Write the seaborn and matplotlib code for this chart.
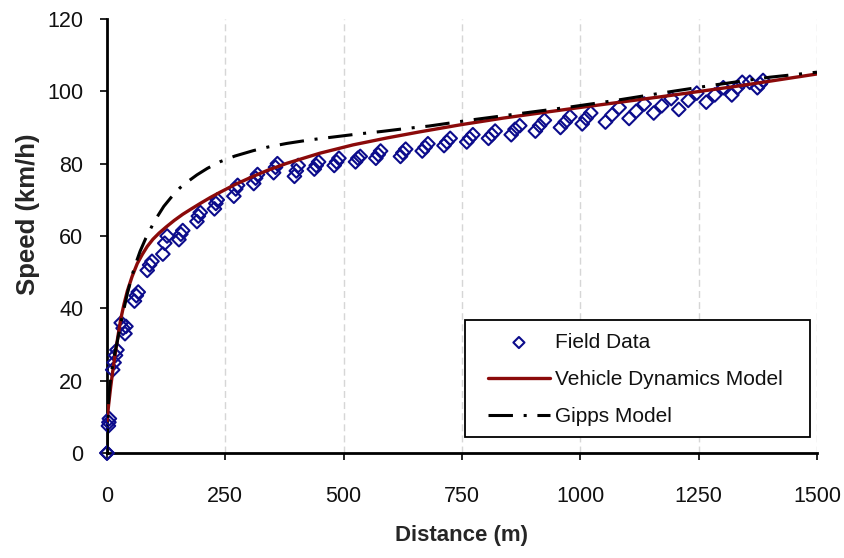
import numpy as np
import pandas as pd
import matplotlib
matplotlib.use("Agg")
import matplotlib.pyplot as plt
from matplotlib.patches import Rectangle
import seaborn as sns

# ---- data ----
field_x = [0, 0,
           3, 4, 5,
           12, 15, 18, 21,
           30, 34, 38, 40,
           58, 62, 66,
           85, 90, 95,
           118, 122, 127,
           152, 156, 160,
           190, 193, 197,
           227, 230, 233,
           268, 272, 276,
           310, 314, 318,
           352, 356, 360,
           396, 400, 404,
           438, 442, 447,
           480, 485, 490,
           525, 530, 535,
           568, 573, 578,
           620, 625, 631,
           666, 672, 678,
           712, 718, 725,
           760, 766, 773,
           806, 813, 820,
           854, 862, 872,
           905, 914, 924,
           958, 968, 978,
           1004, 1012, 1022,
           1053, 1067, 1082,
           1103, 1118, 1135,
           1155, 1172, 1192,
           1208, 1228, 1246,
           1266, 1284, 1302,
           1320, 1332, 1342,
           1358,
           1374, 1380, 1386]
field_y = [0, 0,
           7.5, 8.5, 9.5,
           23, 25, 27, 28.5,
           36, 34.5, 33, 35,
           42, 43.5, 44.5,
           50.5, 52, 53,
           55, 58, 60,
           59, 60.5, 61.5,
           64, 65.5, 66.5,
           67.5, 69, 70,
           71, 73, 74,
           74.5, 76, 77,
           77.5, 79, 80,
           76.5, 78, 79.5,
           78.5, 79.5, 80.5,
           79.5, 80.5, 81.5,
           80.5, 81.5, 82,
           81.5, 82.5, 83.5,
           82, 83, 84,
           83.5, 84.5, 85.5,
           85, 86, 87,
           86, 87, 88,
           87, 88, 89,
           88, 89.5, 90.5,
           89, 90.5, 92,
           90, 91.5, 93,
           91, 92.5, 94,
           91.5, 93.5, 95.5,
           92.5, 94.5, 96.5,
           94, 96, 98,
           95, 97.5, 99.5,
           97, 99, 101,
           99, 101, 102.5,
           102.5,
           101, 102, 103]

vdm_x = [0, 2, 4, 8, 12, 18, 24, 29, 36, 43, 53, 64, 75, 85, 97, 110, 125,
         142, 160, 177, 197, 219, 239, 270, 309, 340, 380, 450, 520, 591, 661,
         749, 837, 925, 1003, 1084, 1170, 1253, 1330, 1410, 1500]
vdm_y = [9, 11.5, 14, 18.5, 22.5, 28, 33, 37, 41.2, 44.8, 48.8, 52.4, 55, 57.1,
         59.1, 60.8, 62.5, 64.3, 66.0, 67.4, 69.0, 70.7, 72.1, 74.2, 76.5, 78.2,
         80.1, 82.9, 85.2, 87.1, 88.8, 90.8, 92.6, 94.2, 95.6, 97.0, 98.5, 100.0,
         101.4, 103.0, 104.8]

gipps_x = [0, 2, 4, 8, 14, 22, 31, 43, 55, 64, 70, 82, 98, 106, 120, 135, 154,
           166, 190, 212, 240, 270, 309, 340, 380, 430, 480, 530, 580, 630, 680,
           770, 875, 980, 1075, 1180, 1280, 1400, 1500]
gipps_y = [0, 11, 16, 21, 26, 31, 37, 44.1, 50, 53.6, 55.8, 59.4, 63.5, 65.3,
           68.2, 70.6, 73.3, 74.6, 76.9, 78.7, 80.6, 82.1, 83.6, 84.6, 85.6, 86.6,
           87.4, 88.2, 88.9, 89.7, 90.4, 92.1, 93.9, 95.7, 97.5, 99.7, 101.7,
           103.9, 105.3]

x_ticks = [0, 250, 500, 750, 1000, 1250, 1500]
y_ticks = [0, 20, 40, 60, 80, 100, 120]
x_label = "Distance (m)"
y_label = "Speed (km/h)"
series_names = ["Field Data", "Vehicle Dynamics Model", "Gipps Model"]

# ---- style ----
sns.set_theme(style="white")
plt.rcParams["font.family"] = ["Liberation Sans", "DejaVu Sans"]
plt.rcParams["text.color"] = "#111111"

fig = plt.figure(figsize=(8.45, 5.58), dpi=100)
ax = fig.add_axes([107 / 845, 1 - 453 / 558, 710 / 845, 434 / 558])

field_df = pd.DataFrame({"x": field_x, "y": field_y})
vdm_df = pd.DataFrame({"x": vdm_x, "y": vdm_y})
gipps_df = pd.DataFrame({"x": gipps_x, "y": gipps_y})

navy = "#0c0c8c"
sns.scatterplot(data=field_df, x="x", y="y", ax=ax, marker="D", s=48,
                facecolors="none", edgecolor=navy, linewidth=1.5,
                label=series_names[0], zorder=3, clip_on=False)
sns.lineplot(data=vdm_df, x="x", y="y", ax=ax, color="#8b0a0a", linewidth=2.4,
             estimator=None, errorbar=None, sort=False,
             label=series_names[1], zorder=4)
sns.lineplot(data=gipps_df, x="x", y="y", ax=ax, color="black", linewidth=2.2,
             estimator=None, errorbar=None, sort=False,
             linestyle=(0, (8, 3.5, 1, 3.5)),
             label=series_names[2], zorder=5)

ax.set_xlim(0, 1500)
ax.set_ylim(0, 120)
ax.set_xticks(x_ticks)
ax.set_yticks(y_ticks)
ax.set_xticklabels([str(t) for t in x_ticks])
ax.set_yticklabels([str(t) for t in y_ticks])

for side in ["top", "right"]:
    ax.spines[side].set_visible(False)
for side in ["left", "bottom"]:
    ax.spines[side].set_color("black")
    ax.spines[side].set_linewidth(2.0)

ax.tick_params(axis="both", which="major", direction="out", length=5, width=1.2,
               color="black", labelsize=15.5, labelcolor="#111111")
ax.tick_params(axis="x", pad=19, bottom=True)
ax.tick_params(axis="y", pad=12, left=True)

ax.grid(axis="x", linestyle=(0, (5, 3)), color="#d6d6d6", linewidth=1.0)
ax.grid(axis="y", visible=False)
ax.set_axisbelow(True)

ax.set_xlabel(x_label, fontsize=16, fontweight="bold", labelpad=13)
ax.set_ylabel(y_label, fontsize=18.5, fontweight="bold")
ax.yaxis.set_label_coords(-0.094, 0.55)

# legend frame (opaque, square)
frame = Rectangle((0.5042, 0.0369), 0.4859, 0.2696, transform=ax.transAxes,
                  facecolor="white", edgecolor="black", linewidth=1.3,
                  zorder=6, clip_on=False)
ax.add_patch(frame)

leg = ax.legend(loc="upper left", bbox_to_anchor=(0.5366, 0.2765),
                fontsize=15, frameon=False, handlelength=2.97,
                handletextpad=0.25, labelspacing=0.87, borderpad=0,
                scatterpoints=1, borderaxespad=0)
leg.set_zorder(7)
for h in leg.legend_handles:
    try:
        h.set_sizes([32])
    except AttributeError:
        pass

fig.savefig("out.png", dpi=100)
